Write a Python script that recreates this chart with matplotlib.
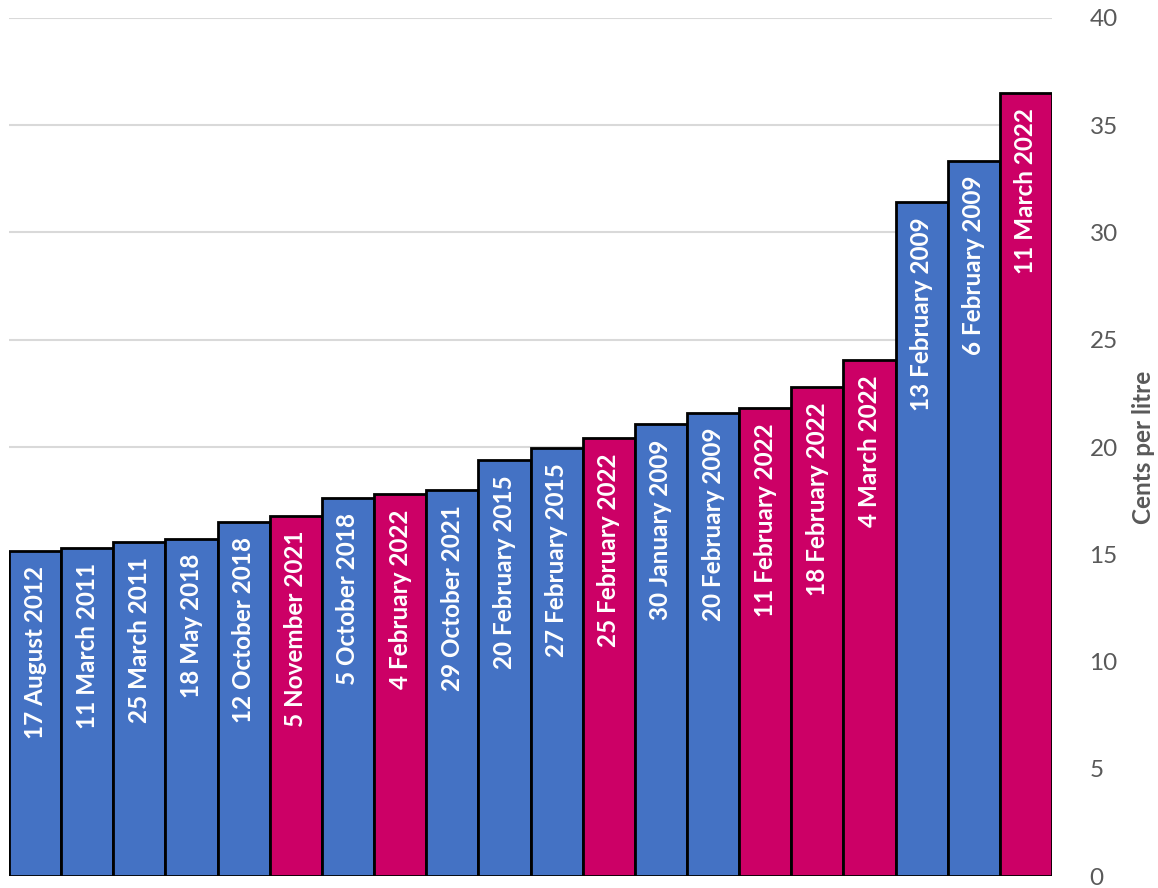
import matplotlib
matplotlib.use("Agg")
import matplotlib.pyplot as plt

labels = ["17 August 2012", "11 March 2011", "25 March 2011", "18 May 2018",
          "12 October 2018", "5 November 2021", "5 October 2018", "4 February 2022",
          "29 October 2021", "20 February 2015", "27 February 2015", "25 February 2022",
          "30 January 2009", "20 February 2009", "11 February 2022", "18 February 2022",
          "4 March 2022", "13 February 2009", "6 February 2009", "11 March 2022"]
values = [15.15, 15.3, 15.55, 15.72, 16.5, 16.8, 17.6, 17.8, 18.0, 19.4,
          19.95, 20.4, 21.05, 21.6, 21.8, 22.8, 24.05, 31.4, 33.35, 36.5]
is2022 = [False, False, False, False, False, True, False, True, False, False,
          False, True, False, False, True, True, True, False, False, True]
yticks = [0, 5, 10, 15, 20, 25, 30, 35, 40]

BLUE = "#4472C4"
MAG = "#CC0066"
GRAY = "#595959"

plt.rcParams['font.family'] = ['Lato', 'DejaVu Sans']
fig = plt.figure(figsize=(11.58, 8.88), dpi=100)
ax = fig.add_axes([9/1158, 12/888, (1052-9)/1158, (876-18)/888])

x = list(range(len(values)))
colors = [MAG if f else BLUE for f in is2022]
ax.bar(x, values, width=1.0, color=colors, edgecolor="black", linewidth=2, zorder=3)
for xi, v, lab in zip(x, values, labels):
    ax.text(xi, v - 0.7, lab, rotation=90, ha="center", va="top", color="white",
            fontsize=17.5, fontweight="bold", zorder=4)

ax.set_xlim(-0.5, len(values) - 0.5)
ax.set_ylim(0, 40)
ax.set_yticks(yticks)
ax.yaxis.tick_right()
ax.yaxis.set_label_position("right")
ax.tick_params(axis="y", length=0, pad=27, labelsize=17.5, labelcolor=GRAY)
ax.set_xticks([])
ax.grid(axis="y", color="#D9D9D9", linewidth=1.5, zorder=0)
for s in ax.spines.values():
    s.set_visible(False)
ax.set_ylabel("Cents per litre", fontsize=17.5, fontweight="bold", color=GRAY, labelpad=10)

fig.savefig("out.png", dpi=100)
